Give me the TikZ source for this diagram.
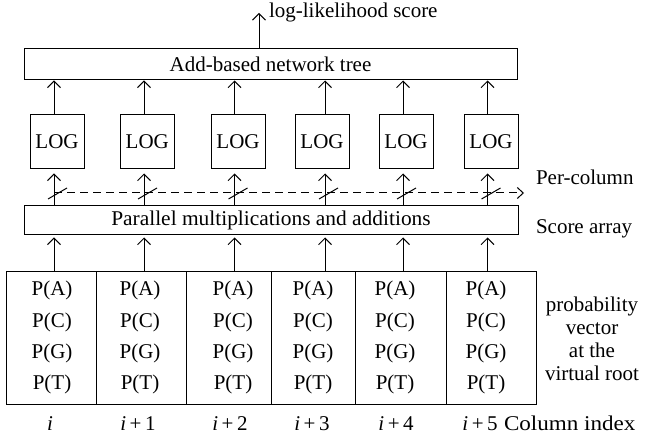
\documentclass[tikz,border=0pt]{standalone}
\usepackage{fontspec}
\setmainfont{Liberation Serif}
\newfontfamily\parfont{Liberation Serif}[FakeStretch=1.02]
\newfontfamily\widefont{Liberation Serif}[FakeStretch=1.1]
\usetikzlibrary{arrows.meta}
\tikzset{
  txt/.style={font=\fontsize{21}{23.2}\selectfont, inner sep=0pt, outer sep=0pt},
  box/.style={draw, line width=1pt, inner sep=0pt, font=\fontsize{21}{23.2}\selectfont},
  arr/.style={line width=1pt, -{Straight Barb[length=6.5pt,width=13pt,line width=1pt]}},
  dasharr/.style={line width=1pt, dash pattern=on 8pt off 5pt, -{Straight Barb[length=6pt,width=11pt,line width=1pt]}},
  slashmark/.style={line width=1pt},
}
\begin{document}
\begin{tikzpicture}[x=1pt,y=-1pt]
\useasboundingbox (0,0) rectangle (645,438);

% column axes
\foreach \i/\x in {1/54,2/144,3/234.5,4/325,5/403,6/487.5}
  \coordinate (c\i) at (\x,193);

% top box and output
\node[box, minimum width=493pt, minimum height=31pt] (add) at (270.5,64.5) {Add-based network tree};
\coordinate (topend) at (259,13);
\draw[arr] (add.north -| topend) -- (topend);
\node[txt, anchor=base west] (score) at (269,18) {log-likelihood score};

% LOG boxes
\foreach \i/\x in {1/57,2/147.3,3/238,4/322,5/406,6/491}
  \node[box, minimum width=54pt, minimum height=54pt] (log\i) at (\x,142) {LOG};

% parallel box
\node[box, minimum width=494pt, minimum height=29pt, font=\parfont\fontsize{21}{23.2}\selectfont] (par) at (271,220.5) {Parallel multiplications and additions};

% probability cells
\foreach \i/\x/\w in {1/51.35/90.7,2/141.7/90,3/228.85/84.3,4/313/84,5/400.5/91,6/491/90}
  \node[box, minimum width=\w pt, minimum height=132pt] (cell\i) at (\x,338) {};

\foreach \i/\x in {1/52,2/140,3/233,4/313,5/395,6/486}{
  \foreach \j/\y/\t in {1/296/A,2/327/C,3/358/G,4/389/T}
    \node[txt, anchor=base] (p\i\j) at (\x,\y) {P(\t)};
}

% connectors
\foreach \i in {1,...,6}{
  \draw[arr] (log\i.north -| c\i) -- (add.south -| c\i);
  \draw[arr, shorten >=4pt] (par.north -| c\i) -- (log\i.south -| c\i);
  \draw[arr, shorten >=2pt] (cell\i.north -| c\i) -- (par.south -| c\i);
}

% per-column dashed arrow with slashes
\coordinate (dend) at (524,193);
\draw[dasharr] (c1) -- (dend);
\foreach \i in {1,...,6}
  \draw[slashmark] ([shift={(-6,6)}]c\i) -- ([shift={(13,-5)}]c\i);

% right labels
\node[txt, anchor=base west] (percol) at (536,185) {Per-column};
\node[txt, anchor=base west] (scorearr) at (536,234) {Score array};
\node[txt, align=center] (probvec) at (592,339) {probability\\vector\\at the\\virtual root};

% column index
\node[txt, anchor=base] (idx1) at (50,430) {\textit{i}};
\node[txt, anchor=base] (idx2) at (138,430) {\textit{i}\,+\,1};
\node[txt, anchor=base] (idx3) at (230,430) {\textit{i}\,+\,2};
\node[txt, anchor=base] (idx4) at (312,430) {\textit{i}\,+\,3};
\node[txt, anchor=base] (idx5) at (396,430) {\textit{i}\,+\,4};
\node[txt, anchor=base] (idx6) at (480,430) {\textit{i}\,+\,5};
\node[txt, anchor=base west, font=\widefont\fontsize{21}{23.2}\selectfont] (colidx) at (504,430) {Column index};
\end{tikzpicture}
\end{document}
